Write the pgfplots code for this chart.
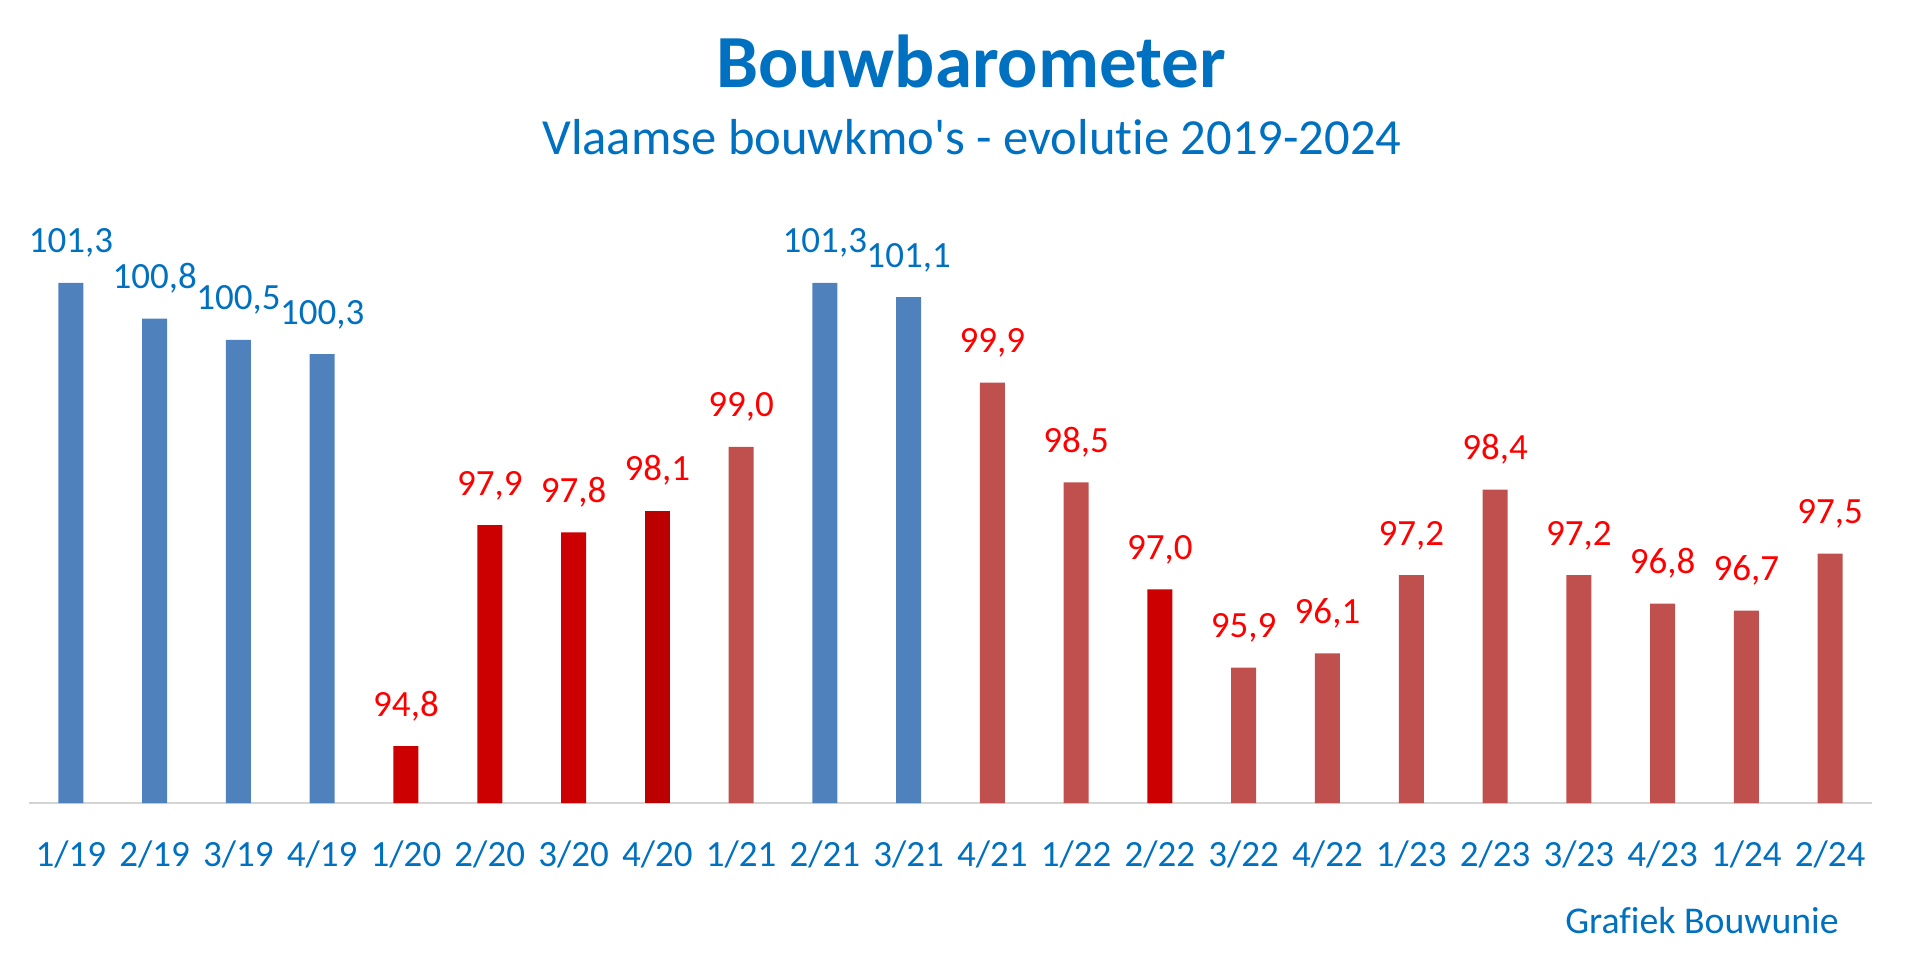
\documentclass[border=0pt]{standalone}
\usepackage{pgfplots}
\pgfplotsset{compat=1.18}
\usepackage{fontspec}
\setmainfont{Carlito}[Ligatures={TeXOff,NoCommon}]
\definecolor{barblue}{HTML}{4F81BD}
\definecolor{barred}{HTML}{CC0000}
\definecolor{bardark}{HTML}{BC0000}
\definecolor{barbrown}{HTML}{C0504D}
\definecolor{txtblue}{HTML}{0070C0}
\definecolor{txtred}{HTML}{FF0000}
\begin{document}
\begin{tikzpicture}
\useasboundingbox (0,0) rectangle (1920pt,-973pt);
\begin{axis}[
  at={(29pt,-803pt)}, anchor=south west,
  scale only axis, width=1843pt, height=570pt,
  xmin=-0.5, xmax=21.5, ymin=94, ymax=102,
  ybar, bar width=25pt, bar shift=0pt,
  xtick={0,...,21},
  xticklabels={1/19,2/19,3/19,4/19,1/20,2/20,3/20,4/20,1/21,2/21,3/21,4/21,1/22,2/22,3/22,4/22,1/23,2/23,3/23,4/23,1/24,2/24},
  ytick=\empty,
  axis y line=none, axis x line=bottom,
  x axis line style={-, draw=black!17, line width=2.5pt},
  major tick length=0pt,
  xticklabel style={anchor=base, yshift=-63pt, font=\fontsize{37}{40}\selectfont, text=txtblue},
  clip mode=individual,
  nodes near coords,
  nodes near coords style={anchor=base, yshift=30pt, font=\fontsize{37}{40}\selectfont},
  /pgf/number format/.cd, use comma, fixed, fixed zerofill, precision=1, assume math mode=true,
]
\addplot[fill=barblue, draw=none, every node near coord/.append style={text=txtblue}]
  coordinates {(0,101.3) (1,100.8) (2,100.5) (3,100.3) (9,101.3) (10,101.1)};
\addplot[fill=barred, draw=none, every node near coord/.append style={text=txtred}]
  coordinates {(4,94.8) (5,97.9) (6,97.8) (13,97.0)};
\addplot[fill=bardark, draw=none, every node near coord/.append style={text=txtred}]
  coordinates {(7,98.1)};
\addplot[fill=barbrown, draw=none, every node near coord/.append style={text=txtred}]
  coordinates {(8,99.0) (11,99.9) (12,98.5) (14,95.9) (15,96.1) (16,97.2) (17,98.4) (18,97.2) (19,96.8) (20,96.7) (21,97.5)};
\end{axis}
\node[anchor=base, text=txtblue, font=\fontsize{75}{80}\selectfont\bfseries] at (971pt,-88pt) {Bouwbarometer};
\node[anchor=base, text=txtblue, font=\fontsize{50.6}{55}\selectfont] at (972pt,-154.5pt) {Vlaamse bouwkmo's - evolutie 2019-2024};
\node[anchor=base, text=txtblue, font=\fontsize{37.8}{40}\selectfont] at (1702pt,-933pt) {Grafiek Bouwunie};
\end{tikzpicture}
\end{document}
